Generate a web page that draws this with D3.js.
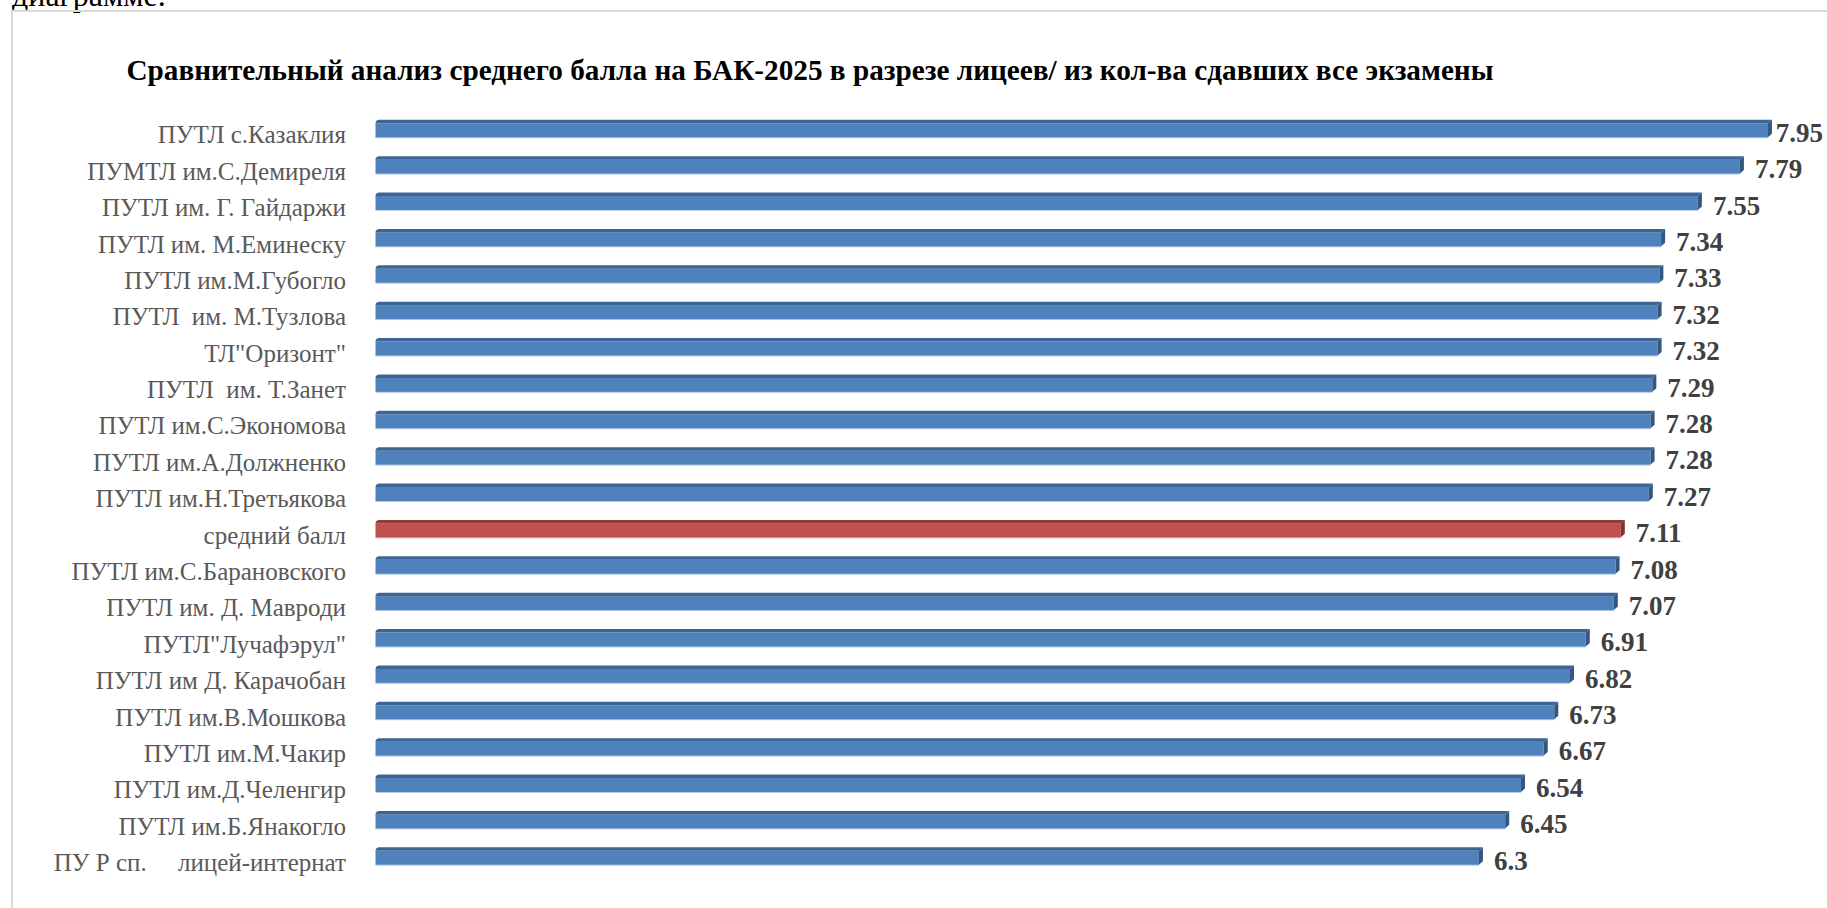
<!DOCTYPE html>
<html><head><meta charset="utf-8">
<script src="https://cdn.jsdelivr.net/npm/d3@7"></script>
<style>
html,body{margin:0;padding:0;background:#fff;overflow:hidden;}
svg text{white-space:pre;}
</style></head>
<body>
<svg id="chart" width="1827" height="908"></svg>
<script>
const categories = [
  "ПУТЛ с.Казаклия","ПУМТЛ им.С.Демиреля","ПУТЛ им. Г. Гайдаржи","ПУТЛ им. М.Еминеску",
  "ПУТЛ им.М.Губогло","ПУТЛ  им. М.Тузлова","ТЛ\"Оризонт\"","ПУТЛ  им. Т.Занет",
  "ПУТЛ им.С.Экономова","ПУТЛ им.А.Должненко","ПУТЛ им.Н.Третьякова","средний балл",
  "ПУТЛ им.С.Барановского","ПУТЛ им. Д. Мавроди","ПУТЛ\"Лучафэрул\"","ПУТЛ им Д. Карачобан",
  "ПУТЛ им.В.Мошкова","ПУТЛ им.М.Чакир","ПУТЛ им.Д.Челенгир","ПУТЛ им.Б.Янакогло",
  "ПУ Р сп.     лицей-интернат"
];
const values = [7.95,7.79,7.55,7.34,7.33,7.32,7.32,7.29,7.28,7.28,7.27,7.11,7.08,7.07,6.91,6.82,6.73,6.67,6.54,6.45,6.3];
const valueLabels = ["7.95","7.79","7.55","7.34","7.33","7.32","7.32","7.29","7.28","7.28","7.27","7.11","7.08","7.07","6.91","6.82","6.73","6.67","6.54","6.45","6.3"];
const highlight = "средний балл";
const title = "Сравнительный анализ среднего балла на БАК-2025 в разрезе лицеев/ из кол-ва сдавших все экзамены";

const svg = d3.select("#chart");
const W = 1827, H = 908;

// Document text fragment above the chart frame
svg.append("text").attr("x", 12).attr("y", 6)
  .attr("font-family", "'Liberation Serif','Times New Roman',serif")
  .attr("font-size", 32).attr("fill", "#000").text("диаграмме.");

// chart frame (top and left edges visible)
svg.append("path").attr("d", `M12,${H} L12,11 L${W},11`)
  .attr("fill", "none").attr("stroke", "#d9d9d9").attr("stroke-width", 2);

// title
const t = svg.append("text").attr("x", 810).attr("y", 80).attr("text-anchor", "middle")
  .attr("font-family", "'Liberation Serif','Times New Roman',serif")
  .attr("font-weight", "bold").attr("font-size", 29).attr("fill", "#000").text(title);
t.attr("textLength", 1367).attr("lengthAdjust", "spacingAndGlyphs");

const x = d3.scaleLinear().domain([0, 8]).range([375.5, 1776.7]);
const y = d3.scaleBand().domain(categories).range([110.3, 874.2]).paddingInner(0.52).paddingOuter(0.26);

const dx = 4, dy = 3.5;
const bw = y.bandwidth();
const colors = {
  blue: {front: "#4f81bd", top: "#3d6593", side: "#34567f", edge: "#b7cbe6"},
  red: {front: "#c0504d", top: "#8f3b39", side: "#7f3331", edge: "#e6b9b8"}
};

const g = svg.append("g");
const bars = g.selectAll("g.bar").data(categories.map((c, i) => ({c, v: values[i], lab: valueLabels[i]})))
  .enter().append("g").attr("class", "bar");

bars.each(function(d) {
  const sel = d3.select(this);
  const col = d.c === highlight ? colors.red : colors.blue;
  const x0 = x(0), x1 = x(d.v), y0 = y(d.c), y1 = y0 + bw;
  // bottom light edge
  sel.append("rect").attr("x", x0).attr("y", y1 - 0.5).attr("width", x1 - x0).attr("height", 1.5).attr("fill", col.edge);
  // front face
  sel.append("rect").attr("x", x0).attr("y", y0 + dy).attr("width", x1 - x0).attr("height", bw - dy).attr("fill", col.front);
  // top face
  sel.append("path").attr("d", `M${x0},${y0 + dy} Q${x0},${y0} ${x0 + dx},${y0} L${x1 + dx},${y0} L${x1},${y0 + dy} Z`).attr("fill", col.top);
  // side face
  sel.append("path").attr("d", `M${x1},${y0 + dy} L${x1 + dx},${y0} L${x1 + dx},${y1 - dy} L${x1},${y1} Z`).attr("fill", col.side);
});

// category labels
svg.append("g").selectAll("text").data(categories).enter().append("text")
  .attr("x", 346).attr("y", d => y(d) + bw / 2 + 15)
  .attr("text-anchor", "end")
  .attr("font-family", "'Liberation Serif','Times New Roman',serif")
  .attr("font-size", 25).attr("fill", "#595959").text(d => d);

// value labels
const vl = svg.append("g").selectAll("text").data(categories.map((c, i) => ({c, v: values[i], lab: valueLabels[i]})))
  .enter().append("text")
  .attr("y", d => y(d.c) + bw / 2 + 13.5)
  .attr("font-family", "'Liberation Serif','Times New Roman',serif")
  .attr("font-weight", "bold").attr("font-size", 27).attr("fill", "#404040")
  .text(d => d.lab);
vl.attr("x", function(d) {
  const w = this.getComputedTextLength();
  return Math.min(x(d.v) + 15, W - 4 - w);
});
</script>
</body></html>
